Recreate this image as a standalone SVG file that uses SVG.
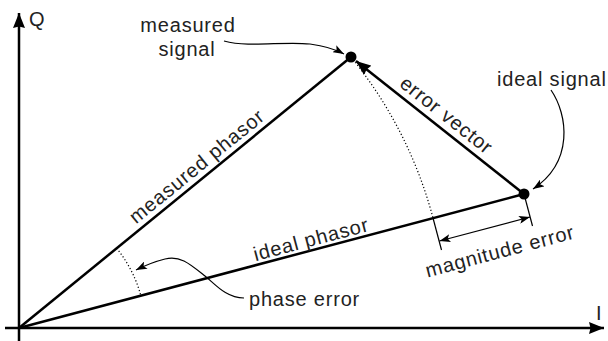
<svg xmlns="http://www.w3.org/2000/svg" width="608" height="341" viewBox="0 0 608 341">
<defs>
<style>
.t{font-family:"Liberation Sans",Arial,sans-serif;font-size:20px;fill:#222;letter-spacing:0.8px}
.thick{stroke:#000;stroke-width:2.5;fill:none}
.thin{stroke:#000;stroke-width:1.2;fill:none}
.dot{stroke:#000;stroke-width:1.2;fill:none;stroke-dasharray:1.2 2.2}
</style>
<marker id="big" markerUnits="userSpaceOnUse" markerWidth="16" markerHeight="12" refX="15" refY="6" orient="auto">
<path d="M0,0 L15,6 L0,12 L1.5,6 z" fill="#000"/>
</marker>
<marker id="small" markerUnits="userSpaceOnUse" markerWidth="12" markerHeight="8" refX="11" refY="4" orient="auto">
<path d="M0,0 L11,4 L0,8 L2.5,4 z" fill="#000"/>
</marker>
<marker id="smallS" markerUnits="userSpaceOnUse" markerWidth="12" markerHeight="8" refX="11" refY="4" orient="auto-start-reverse">
<path d="M0,0 L11,4 L0,8 L2.5,4 z" fill="#000"/>
</marker>
</defs>

<g id="axes">
<line class="thick" x1="19" y1="341" x2="19" y2="13" marker-end="url(#big)"/>
<line class="thick" x1="5" y1="328" x2="604" y2="328" marker-end="url(#big)"/>
<text class="t" x="29" y="26">Q</text>
<text class="t" x="596" y="320">I</text>
</g>

<g id="connectors">
<line class="thick" x1="19" y1="328" x2="351" y2="57"/>
<line class="thick" x1="19" y1="328" x2="524" y2="194"/>
<line class="thick" x1="524" y1="194" x2="356" y2="61" marker-end="url(#big)"/>
<path class="dot" d="M351 57 A428.6 428.6 0 0 1 433 218"/>
<path class="dot" d="M116.6 248.3 A126 126 0 0 1 140.8 295.7"/>
<line class="thin" x1="524" y1="194" x2="532.5" y2="226"/>
<line class="thin" x1="433" y1="218" x2="441.5" y2="250"/>
<line class="thin" x1="439.5" y1="241" x2="530" y2="217" marker-start="url(#smallS)" marker-end="url(#smallS)"/>
<path class="thin" d="M224 41 C250 48 282 41 310 44 C325 46 335 49 344 54" marker-end="url(#small)"/>
<path class="thin" d="M551 90 C568 115 574 162 533 189" marker-end="url(#small)"/>
<path class="thin" d="M244 298 C226 298 215 284 205 276 C190 264 180 255 165 259 C153 262 144 266 136 270" marker-end="url(#small)"/>
</g>

<g id="measured-signal">
<circle cx="351" cy="57" r="5.5" fill="#000"/>
<text class="t" x="188" y="32" text-anchor="middle">measured</text>
<text class="t" x="187" y="56" text-anchor="middle">signal</text>
</g>

<g id="ideal-signal">
<circle cx="524" cy="194" r="5.5" fill="#000"/>
<text class="t" x="497" y="86">ideal signal</text>
</g>

<g id="labels">
<text class="t" text-anchor="middle" transform="translate(201 171.6) rotate(-39.2)">measured phasor</text>
<text class="t" text-anchor="middle" transform="translate(312.8 245.9) rotate(-14.9)">ideal phasor</text>
<text class="t" text-anchor="middle" transform="translate(442.3 120.4) rotate(38.4)">error vector</text>
<text class="t" text-anchor="middle" transform="translate(501.6 257.8) rotate(-14.9)">magnitude error</text>
<text class="t" x="249" y="306">phase error</text>
</g>
</svg>
